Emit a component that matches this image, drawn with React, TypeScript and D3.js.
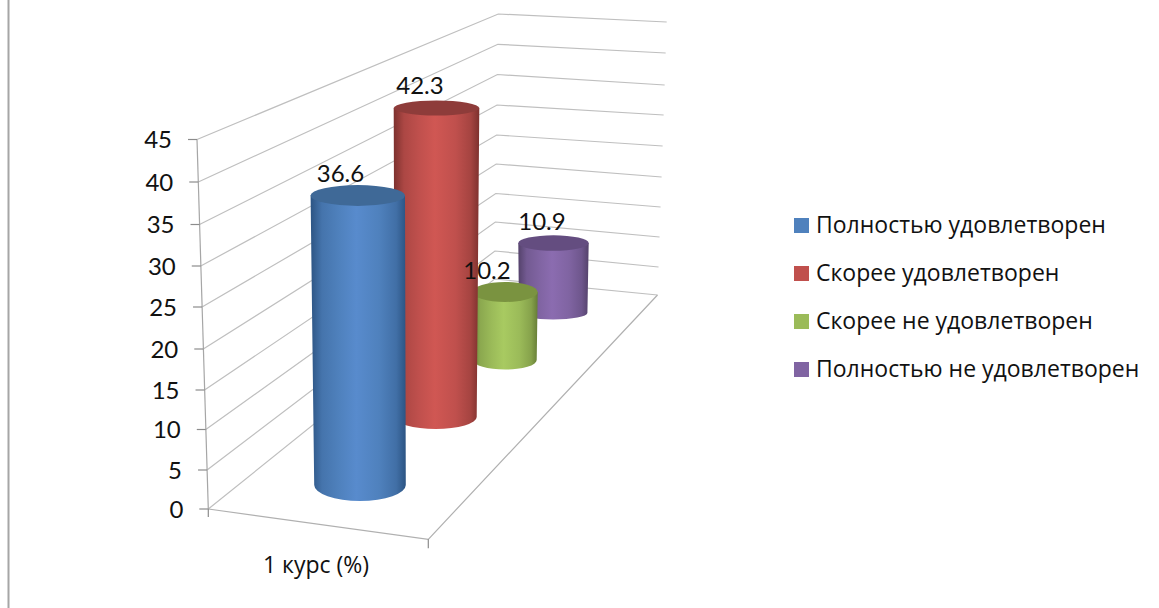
import React from "react";
import * as d3 from "d3";

// ---- data ----
const seriesNames = ["Полностью удовлетворен", "Скорее удовлетворен", "Скорее не удовлетворен", "Полностью не удовлетворен"];
const seriesValues = [36.6, 42.3, 10.2, 10.9];
const valueLabels = ["36.6", "42.3", "10.2", "10.9"];
const categoryLabel = "1 курс (%)";
const axisTicks = [0, 5, 10, 15, 20, 25, 30, 35, 40, 45];

// ---- styles ----
const sideColors = ["#4f81bd", "#c0504d", "#9bbb59", "#8064a2"];
const lightColors = ["#588bcd", "#d05753", "#a8ca61", "#8b6cb0"];
const edgeColors = ["#2c5483", "#7d312e", "#667d36", "#54426b"];
const capColors = ["#3f6997", "#8e3c3a", "#7a9340", "#644d80"];
const GRID = "#bfbfbf";
const FONT_NUM = "Lato, 'Open Sans', sans-serif";
const FONT_TXT = "'Open Sans', 'Noto Sans', sans-serif";

// ---- projected geometry of the 3D box, as scales over the value axis ----
const frontY = d3.scaleLinear().domain(axisTicks).range([509, 470, 429.5, 390, 349, 307, 266, 224.5, 182, 139.5]);
const frontX = d3.scaleLinear().domain([0, 45]).range([208.3, 197]);
const backY = d3.scaleLinear().domain(axisTicks).range([279, 251, 222, 193.5, 164, 135, 105, 74.5, 44.3, 14]);
const backX = d3.scaleLinear().domain([0, 45]).range([494.5, 498.3]);
const rightY = d3.scaleLinear().domain(axisTicks).range([295, 267, 237, 207, 177, 146, 115, 85, 53, 22]);
const rightX = d3.scaleLinear().domain([0, 45]).range([657.5, 666.7]);
const frontRight = { x: 428.3, y: 539.3 };

// per-cylinder projection: base ellipse, top ellipse and vertical scale
const cylinders = [
  { bx: 360, brx: 45.8, bry: 16, by: 485, tx: 357.8, trx: 47.2, try_: 10.4, unit: 7.91 },
  { bx: 435.7, brx: 41, bry: 12, by: 417, tx: 436.5, trx: 42.8, try_: 7.5, unit: 7.305 },
  { bx: 505, brx: 31.7, bry: 9.5, by: 360, tx: 505, trx: 32.7, try_: 10, unit: 6.67 },
  { bx: 553.2, brx: 34.2, bry: 6.5, by: 313, tx: 553.5, trx: 35.2, try_: 7.7, unit: 6.42 },
];
const labelPos = [
  { x: 340.5, y: 182 },
  { x: 420, y: 94 },
  { x: 487, y: 279 },
  { x: 542, y: 230 },
];
const drawOrder = [3, 2, 1, 0];

const line = d3.line<[number, number]>();

export default function App() {
  return (
    <svg width={1159} height={608} viewBox="0 0 1159 608"
      style={{ position: "absolute", left: 0, top: 0, display: "block", background: "#fff" }}>
      <defs>
        {seriesNames.map((_, i) => (
          <linearGradient key={i} id={`cyl${i}`} x1="0" x2="1" y1="0" y2="0">
            <stop offset="0" stopColor={edgeColors[i]} />
            <stop offset="0.12" stopColor={d3.interpolateRgb(edgeColors[i], sideColors[i])(0.7)} />
            <stop offset="0.3" stopColor={sideColors[i]} />
            <stop offset="0.48" stopColor={lightColors[i]} />
            <stop offset="0.72" stopColor={sideColors[i]} />
            <stop offset="0.9" stopColor={d3.interpolateRgb(edgeColors[i], sideColors[i])(0.6)} />
            <stop offset="1" stopColor={edgeColors[i]} />
          </linearGradient>
        ))}
      </defs>

      <line x1={8.5} x2={8.5} y1={0} y2={608} stroke="#a6a6a6" strokeWidth={2} />

      {/* walls */}
      <g fill="none" stroke={GRID} strokeWidth={1.2}>
        {axisTicks.map((t) => (
          <path key={t} d={line([
            [frontX(t), frontY(t)],
            [backX(t), backY(t)],
            [rightX(t), rightY(t)],
          ]) as string} />
        ))}
        <path d={line([
          [frontX(0), frontY(0)],
          [frontRight.x, frontRight.y],
          [rightX(0), rightY(0)],
        ]) as string} stroke="#b0b0b0" />
        <path d={line([[frontX(45), frontY(45)], [frontX(0), frontY(0)]]) as string} stroke="#a6a6a6" />
        {axisTicks.map((t) => (
          <line key={t} x1={frontX(t) - 9} x2={frontX(t)} y1={frontY(t)} y2={frontY(t)} stroke="#8c8c8c" />
        ))}
        <line x1={frontX(0)} x2={frontX(0)} y1={frontY(0)} y2={frontY(0) + 8} stroke="#8c8c8c" />
        <line x1={frontRight.x} x2={frontRight.x} y1={frontRight.y} y2={frontRight.y + 9} stroke="#8c8c8c" />
      </g>

      {/* cylinders, back to front */}
      {drawOrder.map((i) => {
        const c = cylinders[i];
        const h = d3.scaleLinear().domain([0, 45]).range([c.by, c.by - 45 * c.unit]);
        const topY = h(seriesValues[i]);
        const body = `M${c.tx - c.trx},${topY} L${c.bx - c.brx},${c.by} A${c.brx},${c.bry} 0 0 0 ${c.bx + c.brx},${c.by} L${c.tx + c.trx},${topY} Z`;
        return (
          <g key={i}>
            <path d={body} fill={`url(#cyl${i})`} />
            <ellipse cx={c.tx} cy={topY} rx={c.trx} ry={c.try_} fill={capColors[i]} />
          </g>
        );
      })}

      {/* value axis labels */}
      <g fontFamily={FONT_NUM} fontSize={24} fill="#111" textAnchor="end">
        {axisTicks.map((t) => (
          <text key={t} x={frontX(t) - 25} y={frontY(t) + 8.5}>{t}</text>
        ))}
      </g>

      {/* data labels */}
      <g fontFamily={FONT_NUM} fontSize={24} fill="#111" textAnchor="middle">
        {seriesValues.map((_, i) => (
          <text key={i} x={labelPos[i].x} y={labelPos[i].y}>{valueLabels[i]}</text>
        ))}
      </g>

      <text x={316} y={573} fontFamily={FONT_TXT} fontSize={23} fill="#111" textAnchor="middle">{categoryLabel}</text>

      {/* legend */}
      <g>
        {seriesNames.map((name, i) => (
          <g key={i} transform={`translate(794,${218 + i * 48})`}>
            <rect width={15} height={15} fill={sideColors[i]} />
            <text x={22} y={15} fontFamily={FONT_TXT} fontSize={23} fill="#111">{name}</text>
          </g>
        ))}
      </g>
    </svg>
  );
}
